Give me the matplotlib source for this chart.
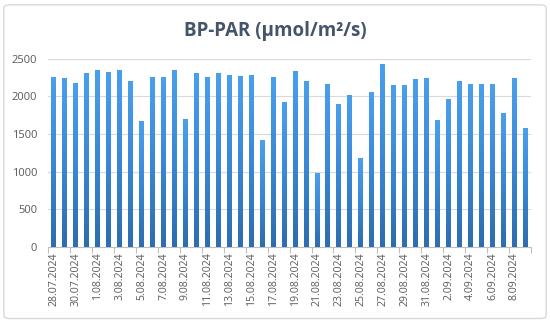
import matplotlib
matplotlib.use("Agg")
import matplotlib.pyplot as plt
import numpy as np
from matplotlib.patches import FancyBboxPatch
from matplotlib.colors import LinearSegmentedColormap

dates = ["28.07.2024", "29.07.2024", "30.07.2024", "31.07.2024", "1.08.2024", "2.08.2024",
         "3.08.2024", "4.08.2024", "5.08.2024", "6.08.2024", "7.08.2024", "8.08.2024",
         "9.08.2024", "10.08.2024", "11.08.2024", "12.08.2024", "13.08.2024", "14.08.2024",
         "15.08.2024", "16.08.2024", "17.08.2024", "18.08.2024", "19.08.2024", "20.08.2024",
         "21.08.2024", "22.08.2024", "23.08.2024", "24.08.2024", "25.08.2024", "26.08.2024",
         "27.08.2024", "28.08.2024", "29.08.2024", "30.08.2024", "31.08.2024", "1.09.2024",
         "2.09.2024", "3.09.2024", "4.09.2024", "5.09.2024", "6.09.2024", "7.09.2024",
         "8.09.2024", "9.09.2024"]
par = [2258, 2250, 2172, 2305, 2357, 2322, 2357, 2199, 1667, 2252, 2261, 2348,
       1705, 2312, 2261, 2312, 2285, 2268, 2285, 1419, 2261, 1920, 2332, 2199,
       980, 2164, 1905, 2020, 1175, 2062, 2437, 2158, 2151, 2226, 2242, 1692,
       1962, 2199, 2160, 2160, 2160, 1785, 2242, 1582]
yticks = [0, 500, 1000, 1500, 2000, 2500]
title = "BP-PAR (µmol/m²/s)"

plt.rcParams['font.family'] = ['Open Sans', 'DejaVu Sans']

fig = plt.figure(figsize=(5.5, 3.25), dpi=100)
fig.patch.set_facecolor("white")
border = FancyBboxPatch((0.007, 0.02), 0.986, 0.965, boxstyle="round,pad=0,rounding_size=0.01",
                        transform=fig.transFigure, facecolor="none", edgecolor="#D9D9D9",
                        linewidth=1.0, zorder=0)
fig.patches.append(border)

ax = fig.add_axes([0.088, 0.241, 0.877, 0.578])
ax.set_facecolor("none")
x = np.arange(len(par))
bars = ax.bar(x, par, width=0.45, color="#3A87D3", zorder=3)

cmap = LinearSegmentedColormap.from_list("g", ["#2C6DAE", "#3A88D6", "#4AA0EC"])
grad = np.linspace(0, 1, 256).reshape(-1, 1)
for b in bars:
    bx, by = b.get_x(), b.get_y()
    bw, bh = b.get_width(), b.get_height()
    im = ax.imshow(grad, cmap=cmap, origin="lower", aspect="auto",
                   extent=(bx, bx + bw, by, by + bh), zorder=4, interpolation="bilinear")
    im.set_clip_path(b)

ax.set_xlim(-0.5, len(par) - 0.5)
ax.set_ylim(0, 2500)
ax.set_yticks(yticks)
ax.set_yticklabels([str(v) for v in yticks], fontsize=8, color="#595959")
ax.yaxis.grid(True, color="#D9D9D9", linewidth=0.8, zorder=0)
ax.tick_params(axis='y', length=0, pad=8)

ax.set_xticks(np.arange(-0.5, len(par), 2))
ax.set_xticklabels([])
ax.tick_params(axis='x', which='major', length=4, color="#BFBFBF", width=0.8)
ax.set_xticks(x[::2], minor=True)
ax.set_xticklabels(dates[::2], minor=True, rotation=90, fontsize=7.6, color="#595959")
ax.tick_params(axis='x', which='minor', length=0, pad=4)

for s in ["top", "right", "left"]:
    ax.spines[s].set_visible(False)
ax.spines["bottom"].set_color("#BFBFBF")
ax.spines["bottom"].set_linewidth(0.8)

fig.text(0.5, 0.905, title, ha="center", va="center", fontsize=13.5, fontweight="bold",
         color="#44546A")

fig.savefig("out.png", dpi=100)
